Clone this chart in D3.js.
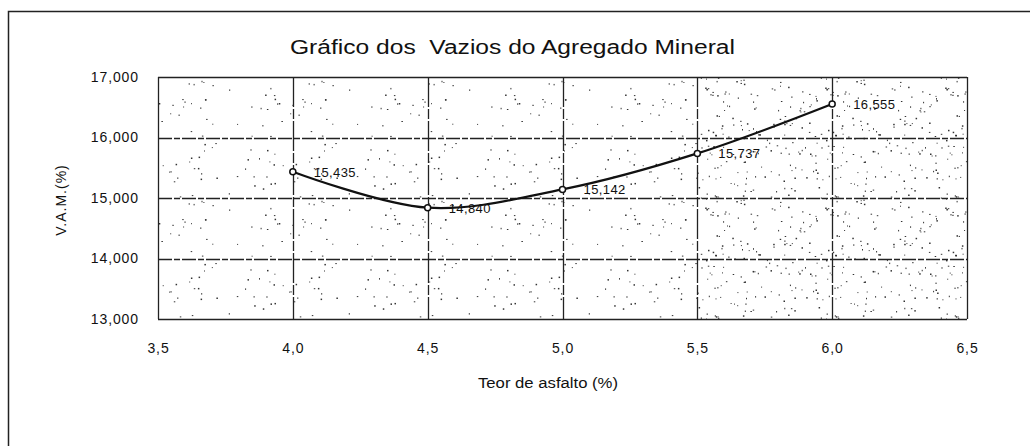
<!DOCTYPE html>
<html>
<head>
<meta charset="utf-8">
<script src="https://cdn.jsdelivr.net/npm/d3@7"></script>
<style>
  html, body { margin: 0; padding: 0; background: #fff; }
  svg { display: block; }
  text { font-family: "Liberation Sans", Arial, sans-serif; fill: #111; }
</style>
</head>
<body>
<svg id="chart" width="1030" height="446"></svg>
<script>
// Teor de asfalto (%) and V.A.M. (%)
const teor = [4.0, 4.5, 5.0, 5.5, 6.0];
const vam = [15.435, 14.840, 15.142, 15.737, 16.555];
const vamLabels = ["15,435", "14,840", "15,142", "15,737", "16,555"];
const xTicks = [3.5, 4.0, 4.5, 5.0, 5.5, 6.0, 6.5];
const yTicks = [13, 14, 15, 16, 17];

const svg = d3.select("#chart");
const plot = { left: 158, right: 967, top: 77, bottom: 319 };

const x = d3.scaleLinear().domain([3.5, 6.5]).range([plot.left, plot.right]);
const y = d3.scaleLinear().domain([13, 17]).range([plot.bottom, plot.top]);

// chart frame (extends past the page on right/bottom)
svg.append("rect")
  .attr("x", 8.5).attr("y", 11.5).attr("width", 1100).attr("height", 600)
  .attr("fill", "none").attr("stroke", "#222").attr("stroke-width", 1.5);

// stipple textures for the plot area
let seed = 12345;
function rnd() { seed = (seed * 1103515245 + 12345) % 2147483648; return seed / 2147483648; }
const defs = svg.append("defs");
function stipple(id, size, count) {
  const p = defs.append("pattern").attr("id", id)
    .attr("patternUnits", "userSpaceOnUse").attr("width", size).attr("height", size);
  for (let i = 0; i < count; i++) {
    p.append("rect")
      .attr("x", (rnd() * size).toFixed(1)).attr("y", (rnd() * size).toFixed(1))
      .attr("width", rnd() < 0.5 ? 1 : 1.5).attr("height", rnd() < 0.5 ? 1 : 1.5)
      .attr("fill", "#333");
  }
}
stipple("dotsLight", 120, 70);
stipple("dotsDense", 120, 170);

svg.append("rect")
  .attr("x", plot.left).attr("y", plot.top)
  .attr("width", x(5.5) - plot.left).attr("height", plot.bottom - plot.top)
  .attr("fill", "url(#dotsLight)");
svg.append("rect")
  .attr("x", x(5.5)).attr("y", plot.top)
  .attr("width", plot.right - x(5.5)).attr("height", plot.bottom - plot.top)
  .attr("fill", "url(#dotsDense)");

// gridlines
const grid = svg.append("g").attr("stroke", "#222").attr("stroke-width", 1.3);
grid.selectAll("line.h").data(yTicks).join("line")
  .attr("x1", plot.left).attr("x2", plot.right)
  .attr("y1", d => Math.round(y(d)) + 0.5).attr("y2", d => Math.round(y(d)) + 0.5)
  .attr("stroke-dasharray", d => (d === 13 || d === 17) ? null : "14,2,6,2");
grid.selectAll("line.v").data(xTicks).join("line")
  .attr("y1", plot.top).attr("y2", plot.bottom)
  .attr("x1", d => Math.round(x(d)) + 0.5).attr("x2", d => Math.round(x(d)) + 0.5)
  .attr("stroke-dasharray", d => (d === 3.5 || d === 6.5) ? null : "30,2,10,2");

// axes (labels only, lines come from the grid)
const fmtX = d => d.toFixed(1).replace(".", ",");
const fmtY = d => d3.format(",")(Math.round(d * 1000));
const yAxis = d3.axisLeft(y).tickValues(yTicks).tickSize(0).tickPadding(19).tickFormat(fmtY);
svg.append("g").attr("transform", `translate(${plot.left},0)`).call(yAxis)
  .call(g => g.select(".domain").remove())
  .selectAll("text").attr("font-size", 14).attr("letter-spacing", 0.9)
  .attr("font-family", "Liberation Sans, Arial, sans-serif").attr("fill", "#111");

const xAxis = d3.axisBottom(x).tickValues(xTicks).tickSize(0).tickPadding(24).tickFormat(fmtX);
svg.append("g").attr("transform", `translate(0,${plot.bottom})`).call(xAxis)
  .call(g => g.select(".domain").remove())
  .selectAll("text").attr("font-size", 14).attr("letter-spacing", 0.9)
  .attr("font-family", "Liberation Sans, Arial, sans-serif").attr("fill", "#111");

// title and axis titles
svg.append("text").attr("x", 290).attr("y", 54)
  .attr("font-size", 20).attr("textLength", 445).attr("lengthAdjust", "spacingAndGlyphs")
  .style("white-space", "pre").text("Gráfico dos  Vazios do Agregado Mineral");
svg.append("text").attr("x", 478).attr("y", 388)
  .attr("font-size", 14).attr("textLength", 140).attr("lengthAdjust", "spacingAndGlyphs")
  .text("Teor de asfalto (%)");
svg.append("text").attr("transform", `translate(66,200) rotate(-90)`).attr("text-anchor", "middle")
  .attr("font-size", 14).attr("letter-spacing", 1).text("V.A.M.(%)");

// smoothed series line
const pts = teor.map((t, i) => [x(t), y(vam[i])]);
svg.append("path")
  .attr("d", d3.line().curve(d3.curveCatmullRom.alpha(0.5))(pts))
  .attr("fill", "none").attr("stroke", "#111").attr("stroke-width", 2.2);

// markers
svg.selectAll("circle.m").data(pts).join("circle")
  .attr("cx", d => d[0]).attr("cy", d => d[1]).attr("r", 3)
  .attr("fill", "#fff").attr("stroke", "#111").attr("stroke-width", 1.5);

// value labels
svg.selectAll("text.v").data(teor).join("text")
  .attr("x", d => x(d) + 21).attr("y", (d, i) => y(vam[i]) + 5)
  .attr("font-size", 13).attr("letter-spacing", 0.4).text((d, i) => vamLabels[i]);
</script>
</body>
</html>
